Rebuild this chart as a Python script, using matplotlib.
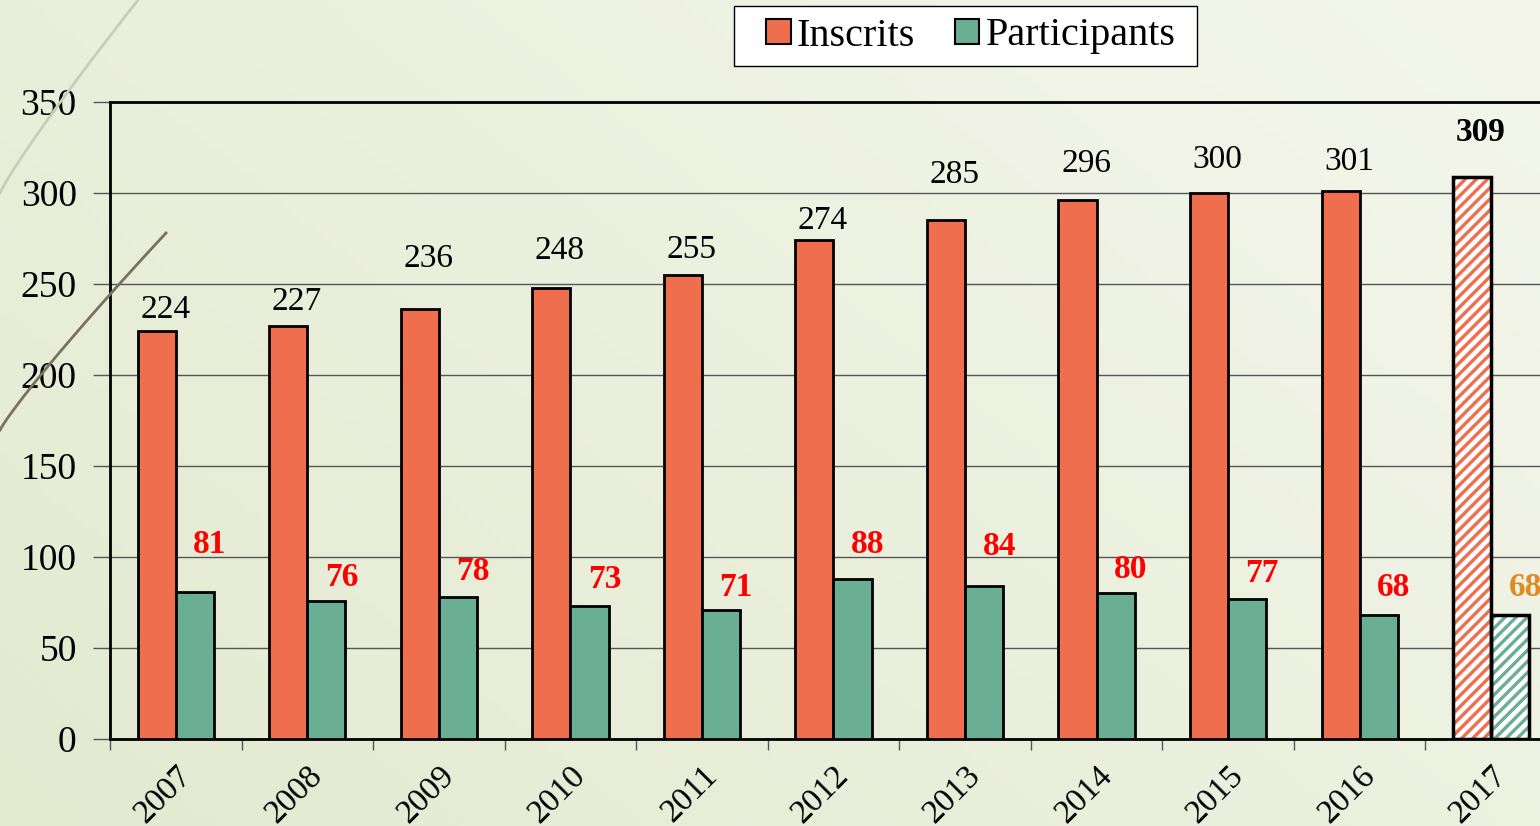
import numpy as np
import matplotlib
matplotlib.use("Agg")
from matplotlib import pyplot as plt
from matplotlib.lines import Line2D
from matplotlib.patches import Patch, Rectangle

years = ["2007", "2008", "2009", "2010", "2011", "2012", "2013", "2014", "2015", "2016", "2017"]
inscrits = [224, 227, 236, 248, 255, 274, 285, 296, 300, 301, 309]
participants = [81, 76, 78, 73, 71, 88, 84, 80, 77, 68, 68]
# heights where the value labels sit
inscrits_label_y = [236, 240, 264, 268, 269, 285, 310, 316, 318, 317, 333]
participants_label_y = [107, 88.5, 92, 87.5, 83, 107, 106, 93, 91, 83, 83]

orange = "#EF6E4E"
green = "#6AAE94"

plt.rcParams["font.family"] = ["Liberation Serif", "DejaVu Serif"]
plt.rcParams["hatch.linewidth"] = 2.4

fig = plt.figure(figsize=(15.4, 8.26), dpi=100)

# background gradient
bg = fig.add_axes([0, 0, 1, 1], zorder=-10)
gx, gy = np.meshgrid(np.linspace(0, 1, 200), np.linspace(0, 1, 100))
g = np.clip(0.6 * gx + 0.4 * gy, 0, 1)
c0 = np.array([227, 234, 208]) / 255
c1 = np.array([244, 246, 236]) / 255
img = c0[None, None, :] * (1 - g[..., None]) + c1[None, None, :] * g[..., None]
bg.imshow(img, aspect="auto", extent=[0, 1, 0, 1], origin="lower")
bg.axis("off")

# decorative strokes on the left
t = np.linspace(0, 1, 50)
fig.add_artist(Line2D((138 * t ** 1.1) / 1540, 1 - (193 - 193 * t) / 826,
                      color="#C9CCBB", lw=2, transform=fig.transFigure))
fig.add_artist(Line2D((166 * t ** 1.1) / 1540, 1 - (430 - 197 * t) / 826,
                      color="#7A7260", lw=2, transform=fig.transFigure))

ax = fig.add_axes([110 / 1540, 87 / 826, 1447 / 1540, 637 / 826])
ax.patch.set_alpha(0)

x = np.arange(len(years))
w = 0.29
n = len(years) - 1
ax.bar(x[:n], inscrits[:n], width=-w, align="edge", color=orange, edgecolor="black", lw=2, zorder=3)
ax.bar(x[:n], participants[:n], width=w, align="edge", color=green, edgecolor="black", lw=2, zorder=3)
# last year: hatched (provisional)
ax.bar(x[n:], inscrits[n:], width=-w, align="edge", color="white", edgecolor=orange, hatch="///", lw=0, zorder=3)
ax.bar(x[n:], inscrits[n:], width=-w, align="edge", fill=False, edgecolor="black", lw=2.5, zorder=4)
ax.bar(x[n:], participants[n:], width=w, align="edge", color="white", edgecolor=green, hatch="///", lw=0, zorder=3)
ax.bar(x[n:], participants[n:], width=w, align="edge", fill=False, edgecolor="black", lw=2.5, zorder=4)

for i in range(len(years)):
    ax.text(i - 0.08, inscrits_label_y[i], str(inscrits[i]), ha="center", va="center",
            fontsize=24, fontweight="bold" if i == n else "normal", color="black", zorder=5)
    ax.text(i + 0.26, participants_label_y[i], str(participants[i]), ha="center", va="center",
            fontsize=24, fontweight="bold", color="#E08A22" if i == n else "red", zorder=5)

ax.set_ylim(0, 350)
ax.set_xlim(-0.5, len(years) - 0.5)
ax.set_yticks(range(0, 351, 50))
ax.yaxis.grid(True, color="#555555", lw=1)
ax.set_axisbelow(True)
ax.tick_params(axis="y", labelsize=27, length=12, width=1, color="#555555", pad=12)

ax.set_xticks(x)
ax.set_xticklabels(years, rotation=45, ha="right", rotation_mode="anchor", fontsize=24)
ax.set_xticks(np.arange(-0.5, len(years), 1), minor=True)
ax.tick_params(axis="x", which="major", length=0, pad=15)
ax.tick_params(axis="x", which="minor", length=8, width=1, color="#555555")
for s in ["left", "bottom", "top"]:
    ax.spines[s].set_linewidth(2)
ax.spines["right"].set_visible(False)

# legend box drawn by hand so the side padding matches
fig.add_artist(Rectangle((734 / 1540, 1 - 66 / 826), 463 / 1540, 60 / 826,
                         transform=fig.transFigure, facecolor="white",
                         edgecolor="black", lw=1, zorder=5))
handles = [Patch(facecolor=orange, edgecolor="black", lw=1.5),
           Patch(facecolor=green, edgecolor="black", lw=1.5)]
leg = fig.legend(handles, ["Inscrits", "Participants"], loc="center",
                 bbox_to_anchor=(971 / 1540, 1 - 36 / 826), ncol=2, fontsize=29,
                 frameon=False, handlelength=0.6, handleheight=0.6, handletextpad=0.15,
                 columnspacing=1.0, borderpad=0, borderaxespad=0)
leg.set_zorder(6)

fig.savefig("out.png", dpi=100)
